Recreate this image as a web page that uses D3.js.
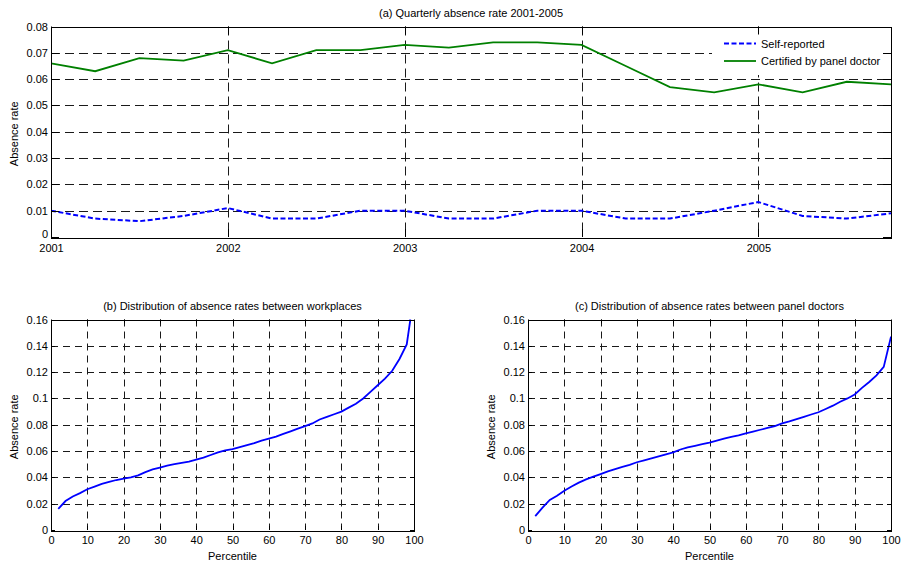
<!DOCTYPE html>
<html><head><meta charset="utf-8">
<script src="https://cdn.jsdelivr.net/npm/d3@7"></script>
<style>
body{margin:0;background:#fff}
text{font-family:"Liberation Sans",Arial,Helvetica,sans-serif;font-size:11px;fill:#000}
</style>
</head><body>
<svg id="chart" width="901" height="565"></svg>
<script>
// ---------- data ----------
const quarters = [2001,2001.25,2001.5,2001.75,2002,2002.25,2002.5,2002.75,2003,2003.25,2003.5,2003.75,2004,2004.25,2004.5,2004.75,2005,2005.25,2005.5,2005.75];
const selfReported = [0.010,0.007,0.006,0.008,0.011,0.007,0.007,0.010,0.010,0.007,0.007,0.010,0.010,0.007,0.007,0.010,0.0133,0.008,0.007,0.009];
const certified = [0.066,0.063,0.068,0.067,0.071,0.066,0.071,0.071,0.073,0.072,0.074,0.074,0.073,0.065,0.057,0.055,0.058,0.055,0.059,0.058];
const yearTicks = [2001,2002,2003,2004,2005];
const topRateTicks = [0,0.01,0.02,0.03,0.04,0.05,0.06,0.07,0.08];

const pctB = [2,4,6,8,10,12,14,16,18,20,22,24,26,28,30,32,34,36,38,40,42,44,46,48,50,52,54,56,58,60,62,64,66,68,70,72,74,76,78,80,82,84,86,88,90,92,94,96,98,99];
const rateB = [0.016,0.022,0.0255,0.028,0.031,0.033,0.035,0.0365,0.038,0.039,0.040,0.0415,0.044,0.046,0.0475,0.049,0.050,0.051,0.052,0.0535,0.055,0.057,0.059,0.0605,0.0615,0.063,0.0645,0.066,0.068,0.0695,0.071,0.073,0.075,0.077,0.079,0.081,0.084,0.086,0.088,0.090,0.093,0.096,0.100,0.105,0.110,0.115,0.121,0.130,0.141,0.160];

const pctC = [2,4,6,8,10,12,14,16,18,20,22,24,26,28,30,32,34,36,38,40,42,44,46,48,50,52,54,56,58,60,62,64,66,68,70,72,74,76,78,80,82,84,86,88,90,92,94,96,98,100];
const rateC = [0.0105,0.017,0.0228,0.026,0.0298,0.033,0.036,0.0385,0.0405,0.0425,0.0445,0.0463,0.048,0.0495,0.0515,0.053,0.0545,0.056,0.0575,0.059,0.0612,0.0628,0.064,0.0652,0.0665,0.068,0.0694,0.0708,0.072,0.0734,0.0748,0.0762,0.0776,0.079,0.081,0.0825,0.0843,0.086,0.0878,0.0895,0.092,0.0945,0.0975,0.100,0.103,0.108,0.1125,0.1175,0.124,0.147];

const pctTicks = [0,10,20,30,40,50,60,70,80,90,100];
const distRateTicks = [0,0.02,0.04,0.06,0.08,0.1,0.12,0.14,0.16];

const seriesNames = ["Self-reported","Certified by panel doctor"];
const titles = ["(a) Quarterly absence rate 2001-2005","(b) Distribution of absence rates between workplaces","(c) Distribution of absence rates between panel doctors"];

// ---------- drawing ----------
const svg = d3.select("#chart");
const fmt = d => String(+d.toFixed(2));

function panel(opt){
  const {left,right,top,bottom,xDomain,yDomain,xTicks,yTicks,xFmt,tick,dash,title,xLabel,id} = opt;
  const x = d3.scaleLinear().domain(xDomain).range([left,right]);
  const y = d3.scaleLinear().domain(yDomain).range([bottom,top]);
  const g = svg.append("g");
  g.append("rect").attr("x",left).attr("y",top).attr("width",right-left).attr("height",bottom-top).attr("fill","#fff");
  // grid
  const gx = xTicks.filter(v=>v>xDomain[0]&&v<xDomain[1]);
  const gy = yTicks.filter(v=>v>yDomain[0]&&v<yDomain[1]);
  g.selectAll(".vg").data(gx).join("line")
    .attr("x1",d=>Math.round(x(d))+0.5).attr("x2",d=>Math.round(x(d))+0.5)
    .attr("y1",top).attr("y2",bottom)
    .attr("stroke","#1a1a1a").attr("stroke-width",1).attr("stroke-dasharray",dash);
  g.selectAll(".hg").data(gy).join("line")
    .attr("y1",d=>Math.round(y(d))+0.5).attr("y2",d=>Math.round(y(d))+0.5)
    .attr("x1",left).attr("x2",right)
    .attr("stroke","#1a1a1a").attr("stroke-width",1).attr("stroke-dasharray",dash);
  const clipId = "clip"+id;
  svg.append("clipPath").attr("id",clipId).append("rect")
    .attr("x",left).attr("y",top-1).attr("width",right-left).attr("height",bottom-top+2);
  const plot = g.append("g").attr("clip-path",`url(#${clipId})`);
  return {g,plot,x,y,finish(){
    // ticks (inward) + labels
    const ab = d3.axisBottom(x).tickValues(xTicks).tickFormat(xFmt).tickSize(0).tickPadding(opt.xPad);
    const al = d3.axisLeft(y).tickValues(yTicks).tickFormat(fmt).tickSize(0).tickPadding(3);
    const gb = g.append("g").attr("transform",`translate(0,${bottom})`).call(ab);
    const gl = g.append("g").attr("transform",`translate(${left},0)`).call(al);
    [gb,gl].forEach(a=>{a.select(".domain").remove();a.selectAll("text").attr("fill","#000");a.attr("font-family",null).attr("font-size",null);});
    if(opt.zeroLift) gl.selectAll(".tick").filter(d=>d===0).select("text").attr("y",-opt.zeroLift);
    const tk = g.append("g").attr("stroke","#000").attr("stroke-width",1);
    xTicks.forEach(v=>{const px=Math.round(x(v))+0.5;
      tk.append("line").attr("x1",px).attr("x2",px).attr("y1",bottom).attr("y2",bottom-tick);
      tk.append("line").attr("x1",px).attr("x2",px).attr("y1",top).attr("y2",top+tick);});
    yTicks.forEach(v=>{const py=Math.round(y(v))+0.5;
      tk.append("line").attr("y1",py).attr("y2",py).attr("x1",left).attr("x2",left+tick);
      tk.append("line").attr("y1",py).attr("y2",py).attr("x1",right).attr("x2",right-tick);});
    g.append("rect").attr("x",Math.round(left)+0.5).attr("y",Math.round(top)+0.5)
      .attr("width",Math.round(right-left)).attr("height",Math.round(bottom-top))
      .attr("fill","none").attr("stroke","#000").attr("stroke-width",1);
    g.append("text").attr("x",(left+right)/2).attr("y",top-opt.titleOff).attr("text-anchor","middle").text(title);
    if(xLabel) g.append("text").attr("x",(left+right)/2).attr("y",bottom+30).attr("text-anchor","middle").text(xLabel);
    g.append("text").attr("transform",`translate(${opt.yLabX},${(top+bottom)/2+2}) rotate(-90)`).attr("text-anchor","middle").text("Absence rate");
  }};
}

// panel (a)
const pa = panel({id:"a",left:51,right:891,top:26.5,bottom:237,xDomain:[2001,2005.75],yDomain:[0,0.08],
  xTicks:yearTicks,yTicks:topRateTicks,xFmt:d3.format("d"),tick:8,dash:"9,5",title:titles[0],titleOff:10,yLabX:18,xPad:7,zeroLift:3});
const lineA = d3.line().x((d,i)=>pa.x(quarters[i])).y(d=>pa.y(d));
pa.plot.append("path").datum(selfReported).attr("d",lineA).attr("fill","none")
  .attr("stroke","#0000ff").attr("stroke-width",2).attr("stroke-dasharray","5,2.5");
pa.plot.append("path").datum(certified).attr("d",lineA).attr("fill","none")
  .attr("stroke","#008000").attr("stroke-width",1.8);
// legend
const lg = pa.g.append("g");
lg.append("rect").attr("x",712).attr("y",29).attr("width",177).attr("height",46).attr("fill","#fff");
[["#0000ff","5,2.5",2,43.5],["#008000",null,1.8,61]].forEach((s,i)=>{
  lg.append("line").attr("x1",724).attr("x2",756).attr("y1",s[3]).attr("y2",s[3])
    .attr("stroke",s[0]).attr("stroke-width",s[2]).attr("stroke-dasharray",s[1]);
  lg.append("text").attr("x",761).attr("y",s[3]+4).text(seriesNames[i]);
});
pa.finish();

// panel (b)
const pb = panel({id:"b",left:51,right:414,top:319.5,bottom:530,xDomain:[0,100],yDomain:[0,0.16],
  xTicks:pctTicks,yTicks:distRateTicks,xFmt:d3.format("d"),tick:4,dash:"7,5",title:titles[1],titleOff:10,xLabel:"Percentile",yLabX:18,xPad:6});
pb.plot.append("path").datum(rateB).attr("d",d3.line().x((d,i)=>pb.x(pctB[i])).y(d=>pb.y(d)))
  .attr("fill","none").attr("stroke","#0000ff").attr("stroke-width",1.8);
pb.finish();

// panel (c)
const pc = panel({id:"c",left:528,right:891,top:319.5,bottom:530,xDomain:[0,100],yDomain:[0,0.16],
  xTicks:pctTicks,yTicks:distRateTicks,xFmt:d3.format("d"),tick:4,dash:"7,5",title:titles[2],titleOff:10,xLabel:"Percentile",yLabX:495,xPad:6});
pc.plot.append("path").datum(rateC).attr("d",d3.line().x((d,i)=>pc.x(pctC[i])).y(d=>pc.y(d)))
  .attr("fill","none").attr("stroke","#0000ff").attr("stroke-width",1.8);
pc.finish();
</script>
</body></html>
